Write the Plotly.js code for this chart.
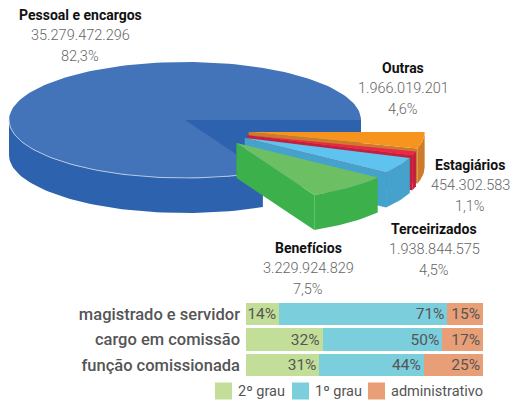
<!DOCTYPE html>
<html><head><meta charset="utf-8">
<script src="https://cdn.plot.ly/plotly-3.0.1.min.js"></script>
<style>html,body{margin:0;padding:0;background:#fff}#chart{width:515px;height:403px}</style>
</head><body><div id="chart"></div>
<script>
// ---- pie data ----
const pieNames = ['Pessoal e encargos','Outras','Estagiários','Terceirizados','Benefícios'];
const pieValues = [35279472296, 1966019201, 454302583, 1938844575, 3229924829];
// ---- bar data ----
const barCategories = ['magistrado e servidor','cargo em comissão','função comissionada'];
const bar2grau = [14, 32, 31];
const bar1grau = [71, 50, 44];
const barAdmin = [15, 17, 25];
const barSeriesNames = ['2º grau','1º grau','administrativo'];

// ---- styles / geometry ----
const topColors  = ['#4374BA','#F7941D','#E8284A','#5EC3EE','#6CC063'];
const sideColors = ['#2D62AF','#CF7A2A','#C41F3E','#45A2CC','#3CB04B'];
const cx = 185, cy = 120, rx = 176, ry = 58, depth = 35;
const labelPos = [[80,15],[403,68],[470,165],[434,229],[308,248]];
const legendX = [215, 292, 368];
const legendY = 391;
const font2 = 'Roboto';

function fmt(v){ return String(v).replace(/\B(?=(\d{3})+(?!\d))/g,'.'); }
const total = pieValues.reduce((a,b)=>a+b,0);
const fracs = pieValues.map(v=>v/total);
const rad = d=>d*Math.PI/180;

const traces = [];
function poly(xs, ys, color, line){
  traces.push({type:'scatter', mode:'lines', x:xs.concat([xs[0]]), y:ys.concat([ys[0]]),
    fill:'toself', fillcolor:color, line:line||{width:0, color:color}, hoverinfo:'skip', showlegend:false,
    xaxis:'x', yaxis:'y'});
}
function rim(th, ox, oy){ return [cx+ox+rx*Math.cos(rad(th)), cy+oy-ry*Math.sin(rad(th))]; }
function arc(a, b, ox, oy, dz){ const xs=[],ys=[]; const n=Math.max(4,Math.ceil(Math.abs(b-a)/2));
  for(let i=0;i<=n;i++){const t=a+(b-a)*i/n; const p=rim(t,ox,oy); xs.push(p[0]); ys.push(p[1]+dz);} return [xs,ys]; }

// main slice (blue)
const mainAng = fracs[0]*360;
poly([cx, cx+rx, cx+rx, cx],[cy, cy, cy+depth, cy+depth], sideColors[0]);
{ const t=arc(180, mainAng, 0,0,0), b=arc(mainAng,180,0,0,depth); poly(t[0].concat(b[0]), t[1].concat(b[1]), sideColors[0]); }
{ const t=arc(0, mainAng, 0,0,0); poly([cx].concat(t[0]), [cy].concat(t[1]), topColors[0]); }
{ const t=arc(180, mainAng, 0,0,0); traces.push({type:'scatter', mode:'lines', x:t[0], y:t[1], xaxis:'x', yaxis:'y',
   line:{color:'rgba(190,205,230,0.9)', width:1}, hoverinfo:'skip', showlegend:false}); }

// exploded slices going clockwise from 0
let end = 0;
for(let i=1;i<pieValues.length;i++){
  const s = end - fracs[i]*360, e = end; end = s;
  const bis = (s+e)/2;
  const ox = 29 + 35*Math.cos(rad(bis)), oy = 9.5 + 17.6*Math.abs(Math.sin(rad(bis)));
  const P = [cx+ox, cy+oy]; const Rs = rim(s,ox,oy);
  poly([P[0], Rs[0], Rs[0], P[0]], [P[1], Rs[1], Rs[1]+depth, P[1]+depth], sideColors[i]);
  { const t=arc(s,e,ox,oy,0), b=arc(e,s,ox,oy,depth); poly(t[0].concat(b[0]), t[1].concat(b[1]), sideColors[i]); }
  { const t=arc(s,e,ox,oy,0); poly([P[0]].concat(t[0]), [P[1]].concat(t[1]), topColors[i]); }
}

// bars
const barColors = ['#C3DE98','#7BCFDD','#E89F77'];
[bar2grau, bar1grau, barAdmin].forEach((vals, k)=>{
  traces.push({type:'bar', orientation:'h', x:vals, y:barCategories, xaxis:'x2', yaxis:'y2',
    marker:{color:barColors[k]}, text:vals.map(v=>v+'%'), textposition:'inside', insidetextanchor:'end',
    textfont:{color:'#555', size:15.5, family:font2},
    constraintext:'none', hoverinfo:'skip', showlegend:false, name:barSeriesNames[k]});
});

const annotations = [];
pieNames.forEach((n,i)=>{
  const [lx, ly] = labelPos[i];
  annotations.push({x:lx, y:ly, xref:'x', yref:'y', text:n, showarrow:false,
    font:{family:'Roboto', size:14, color:'#111', weight:700}});
  annotations.push({x:lx, y:ly+20.5, xref:'x', yref:'y', text:fmt(pieValues[i]), showarrow:false,
    font:{family:'Roboto', size:14.5, color:'#666', weight:300}});
  annotations.push({x:lx, y:ly+41, xref:'x', yref:'y', text:(fracs[i]*100).toFixed(1).replace('.',',')+'%', showarrow:false,
    font:{family:'Roboto', size:14.5, color:'#666', weight:300}});
});
// legend (manual)
const shapes = [];
barSeriesNames.forEach((n,k)=>{
  const x0 = legendX[k];
  shapes.push({type:'rect', xref:'x', yref:'y', x0:x0, x1:x0+17, y0:legendY-8.5, y1:legendY+8.5,
    fillcolor:barColors[k], line:{width:0}});
  annotations.push({x:x0+21, y:legendY, xref:'x', yref:'y', xanchor:'left', text:n, showarrow:false,
    font:{family:font2, size:14.5, color:'#555'}});
});

const layout = {
  width:515, height:403, margin:{l:0,r:0,t:0,b:0}, paper_bgcolor:'#fff', plot_bgcolor:'rgba(0,0,0,0)',
  showlegend:false, barmode:'stack', barnorm:'percent', bargap:0.14,
  xaxis:{domain:[0,1], range:[0,515], visible:false, fixedrange:true},
  yaxis:{domain:[0,1], range:[403,0], visible:false, fixedrange:true},
  xaxis2:{domain:[246/515, 483/515], range:[0,100], visible:false, anchor:'y2'},
  yaxis2:{domain:[1-378/403, 1-301/403], anchor:'x2', type:'category', autorange:'reversed',
    showgrid:false, zeroline:false, showline:false, ticks:'', ticklabelstandoff:5,
    tickfont:{family:font2, size:16.5, color:'#555', weight:500}},
  annotations:annotations, shapes:shapes
};
Plotly.newPlot('chart', traces, layout, {displayModeBar:false, staticPlot:true});
</script></body></html>
